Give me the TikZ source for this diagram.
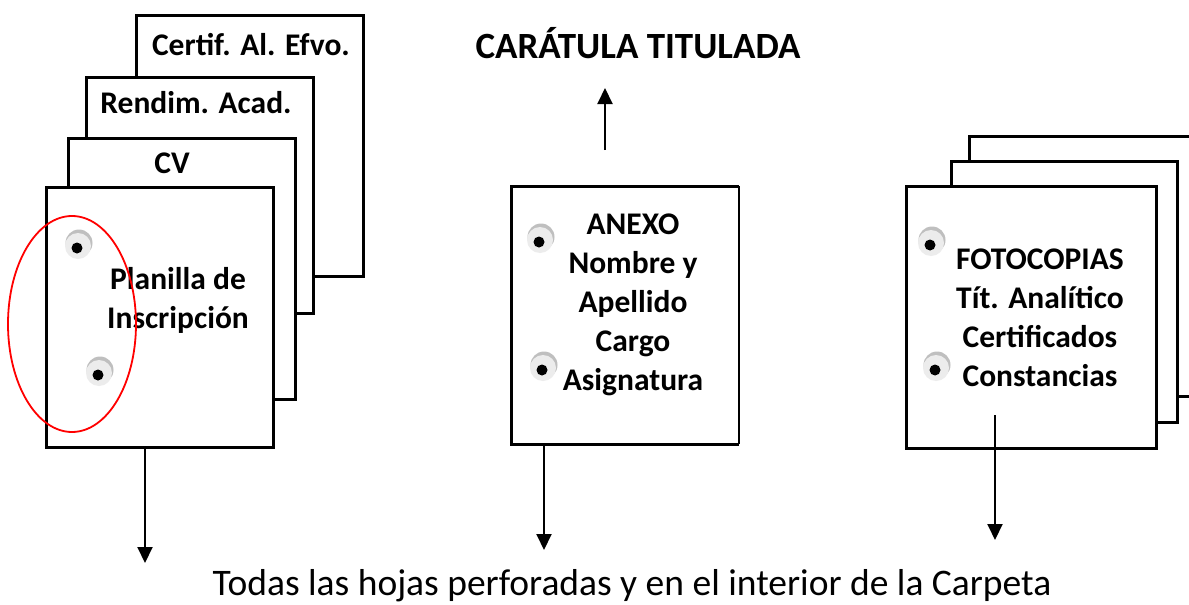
\documentclass[tikz,border=0pt]{standalone}
\usepackage{fontspec}
\setmainfont{Carlito}
\usetikzlibrary{positioning}
\usetikzlibrary{arrows.meta}

\tikzset{
 hoja/.style={draw,line width=3pt,fill=white,inner sep=0pt,outer sep=0pt,anchor=north west},
 rotulo/.style={font=\bfseries\fontsize{31.5}{39}\selectfont,align=center,inner sep=0pt},
 flecha/.style={line width=2pt,-{Triangle[width=15pt,length=16pt]}},
 ojal/.pic={
  \fill[gray!50] (2pt,5pt) circle (13.5pt);
  \fill[gray!15] (1pt,2pt) circle (13pt);
  \fill[black] (0,0) circle (5.5pt);
 }
}

\begin{document}
\begin{tikzpicture}[x=1pt,y=-1pt]
 \useasboundingbox (0,0) rectangle (1189,605);
 \node[hoja,minimum width=227pt,minimum height=261pt] (efvo) at (136,15) {};
 \node[hoja,minimum width=227pt,minimum height=236pt] (acad) at (86,77) {};
 \node[hoja,minimum width=227pt,minimum height=261pt] (cv) at (68,138) {};
 \node[hoja,minimum width=227pt,minimum height=260pt] (planilla) at (46,187) {};
 \node[rotulo] (tefvo) at (251,45) {Certif. Al. Efvo.};
 \node[rotulo] (tacad) at (196,103) {Rendim. Acad.};
 \node[rotulo] (tcv) at (172,163) {CV};
 \node[rotulo] (tplanilla) at (178,300) {Planilla de\\Inscripción};
 \pic at (77,248) {ojal};
 \pic at (98,375) {ojal};
 \draw[red,line width=1.8pt] (72,324) ellipse [x radius=64pt,y radius=108pt];

 \node[hoja,draw=none,minimum width=228pt,minimum height=258pt] (anexo) at (511,186) {};
 \draw[line width=3pt] (anexo.north east) -- (anexo.north west) -- (anexo.south west) -- (anexo.south east);
 \draw[line width=1.5pt] (anexo.north east) -- (anexo.south east);
 \node[rotulo] (tanexo) at (633,305) {ANEXO\\Nombre y\\Apellido\\Cargo\\Asignatura};
 \pic at (539,242) {ojal};
 \pic at (542,370) {ojal};

 \node[hoja,minimum width=240pt,minimum height=260pt] (copia3) at (969,136) {};
 \node[hoja,minimum width=226pt,minimum height=261pt] (copia2) at (951,161) {};
 \node[hoja,minimum width=250pt,minimum height=262pt] (fotoc) at (906,186) {};
 \node[rotulo] (tfotoc) at (1040,318) {FOTOCOPIAS\\Tít. Analítico\\Certificados\\Constancias};
 \pic at (930,245) {ojal};
 \pic at (935,370) {ojal};

 \node[font=\bfseries\fontsize{37}{44}\selectfont,inner sep=0pt] (titulo) at (638,43) {CARÁTULA TITULADA};
 \node[font=\fontsize{37.5}{44}\selectfont,inner sep=0pt] (pie) at (632,586) {Todas las hojas perforadas y en el interior de la Carpeta};

 \coordinate (iniD) at (605,150);
 \coordinate (finD) at (605,88);
 \draw[flecha] (iniD) -- (finD);
 \coordinate (finA) at (145,563);
 \draw[flecha] (planilla.south -| finA) -- (finA);
 \coordinate (finB) at (544,550);
 \draw[flecha] (anexo.south -| finB) -- (finB);
 \coordinate (iniC) at (995,415);
 \coordinate (finC) at (995,540);
 \draw[flecha] (iniC) -- (finC);
\end{tikzpicture}
\end{document}
